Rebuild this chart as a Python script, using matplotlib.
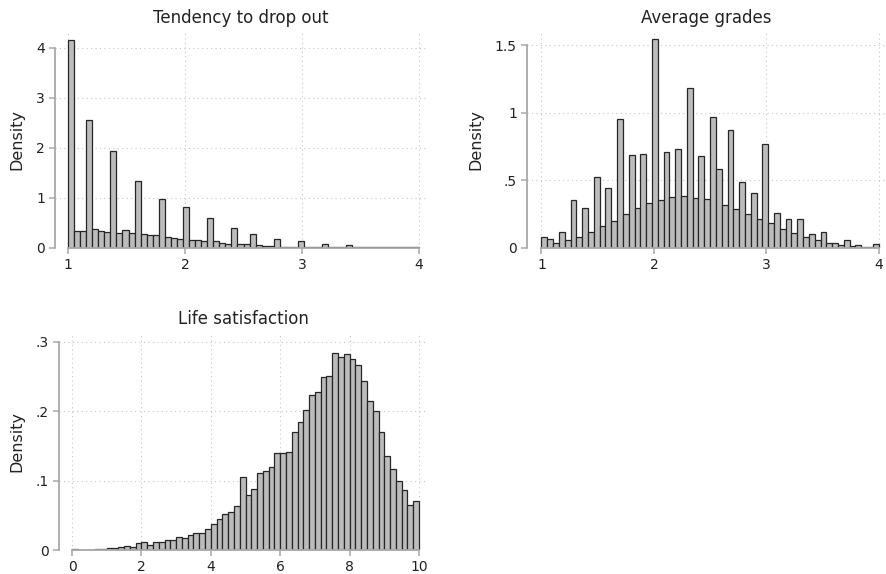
import numpy as np
import matplotlib
matplotlib.use("Agg")
import matplotlib.pyplot as plt

# tendency to drop out, 58 bins between 1 and 4
dropout_range = (1, 4)
dropout_density = [4.16, 0.327, 0.327, 2.56, 0.367, 0.327, 0.313, 1.927, 0.30, 0.347,
                   0.287, 1.327, 0.273, 0.253, 0.253, 0.98, 0.22, 0.20, 0.18, 0.813,
                   0.153, 0.147, 0.133, 0.593, 0.127, 0.10, 0.08, 0.40, 0.073, 0.073,
                   0.267, 0.047, 0.04, 0.04, 0.167, 0.008, 0.007, 0.007, 0.127, 0.005,
                   0.005, 0.004, 0.073, 0.003, 0.003, 0.003, 0.053, 0.002, 0.002, 0.002,
                   0.013, 0.001, 0.001, 0.001, 0.013, 0.001, 0.001, 0.002]
dropout_xticks = [1, 2, 3, 4]
dropout_yticks = [0, 1, 2, 3, 4]
dropout_ylabels = ["0", "1", "2", "3", "4"]

# average grades, 58 bins between 1 and 4
grades_range = (1, 4)
grades_density = [0.077, 0.064, 0.030, 0.116, 0.052, 0.354, 0.077, 0.29, 0.116, 0.525,
                  0.156, 0.443, 0.20, 0.955, 0.248, 0.688, 0.29, 0.69, 0.329, 1.545,
                  0.354, 0.705, 0.371, 0.733, 0.384, 1.186, 0.364, 0.678, 0.356, 0.965,
                  0.579, 0.317, 0.869, 0.285, 0.485, 0.25, 0.403, 0.208, 0.765, 0.178,
                  0.257, 0.136, 0.208, 0.106, 0.213, 0.077, 0.097, 0.052, 0.116, 0.035,
                  0.035, 0.022, 0.054, 0.010, 0.015, 0.005, 0.003, 0.027]
grades_xticks = [1, 2, 3, 4]
grades_yticks = [0, 0.5, 1, 1.5]
grades_ylabels = ["0", ".5", "1", "1.5"]

# life satisfaction, 60 bins between 0 and 10
life_range = (0, 10)
life_density = [0.0014, 0.0003, 0.0003, 0.0005, 0.001, 0.0014, 0.0024, 0.0033, 0.004, 0.0057,
                0.004, 0.0096, 0.011, 0.0067, 0.012, 0.012, 0.015, 0.015, 0.019, 0.017,
                0.022, 0.025, 0.025, 0.030, 0.037, 0.0445, 0.052, 0.055, 0.064, 0.1048,
                0.0799, 0.088, 0.1115, 0.1134, 0.1201, 0.1402, 0.1397, 0.1411, 0.1699, 0.1842,
                0.2014, 0.2234, 0.2282, 0.2493, 0.2512, 0.2833, 0.2785, 0.2823, 0.2756, 0.266,
                0.2431, 0.2139, 0.2005, 0.1703, 0.1354, 0.1172, 0.10, 0.0871, 0.0651, 0.0703]
life_xticks = [0, 2, 4, 6, 8, 10]
life_yticks = [0, 0.1, 0.2, 0.3]
life_ylabels = ["0", ".1", ".2", ".3"]

W, H = 887, 574
fig = plt.figure(figsize=(W / 100, H / 100), dpi=100)
fig.patch.set_facecolor("white")

axis_grey = "#a8a8a8"
grid_grey = "#c4c4c4"


def px_axes(left, right, top, bottom):
    return fig.add_axes([left / W, 1 - bottom / H, (right - left) / W, (bottom - top) / H])


def hist_panel(ax, rng, dens, xticks, yticks, ylabels, title, xlim, ylim):
    edges = np.linspace(rng[0], rng[1], len(dens) + 1)
    ax.bar(edges[:-1], dens, width=np.diff(edges), align="edge",
           color="#bcbcbc", edgecolor="#262626", linewidth=0.9, zorder=3)
    ax.set_xlim(*xlim)
    ax.set_ylim(*ylim)
    ax.set_xticks(xticks)
    ax.set_xticklabels([str(t) for t in xticks])
    ax.set_yticks(yticks)
    ax.set_yticklabels(ylabels)
    ax.grid(True, linestyle=(0, (1, 3)), color=grid_grey, linewidth=0.8, zorder=0)
    for s in ["top", "right"]:
        ax.spines[s].set_visible(False)
    ax.spines["left"].set_bounds(yticks[0], yticks[-1])
    ax.spines["bottom"].set_bounds(xticks[0], xticks[-1])
    for s in ["left", "bottom"]:
        ax.spines[s].set_color(axis_grey)
        ax.spines[s].set_linewidth(1.3)
        ax.spines[s].set_zorder(4)
    ax.tick_params(axis="both", colors=axis_grey, labelcolor="#222222",
                   labelsize=10, length=4.3, width=1.1, pad=3)
    ax.set_ylabel("Density", fontsize=11.5, color="#222222", labelpad=8)
    ax.set_title(title, fontsize=12, color="#222222", pad=6)


ax1 = px_axes(55, 427, 31, 247.5)
hist_panel(ax1, dropout_range, dropout_density, dropout_xticks, dropout_yticks,
           dropout_ylabels, "Tendency to drop out", (0.889, 4.068), (0, 4.33))

ax2 = px_axes(527, 886, 31, 247.5)
hist_panel(ax2, grades_range, grades_density, grades_xticks, grades_yticks,
           grades_ylabels, "Average grades", (0.871, 4.065), (0, 1.605))

ax3 = px_axes(59, 427, 332, 550)
hist_panel(ax3, life_range, life_density, life_xticks, life_yticks,
           life_ylabels, "Life satisfaction", (-0.375, 10.23), (0, 0.314))

fig.savefig("out.png", dpi=100)
